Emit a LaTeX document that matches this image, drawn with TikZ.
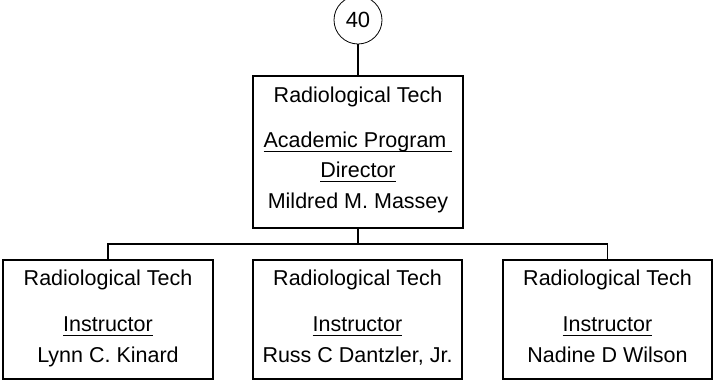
\documentclass[tikz,border=0pt]{standalone}
\usepackage{fontspec}
\setmainfont{Liberation Sans}
\newcommand\myul[1]{\setbox0\hbox{#1}\rlap{\rule[-4.5pt]{\wd0}{1.3pt}}\box0}
\begin{document}
\begin{tikzpicture}[x=1pt,y=-1pt,
  box/.style={draw,line width=1.4pt,minimum width=#1,inner sep=0pt,rectangle},
  txt/.style={anchor=base,inner sep=0pt,font=\fontsize{21.5}{25}\selectfont},
  conn/.style={line width=1.4pt}]
\useasboundingbox (0,0) rectangle (713,381);
% circle
\node[draw,circle,line width=0.8pt,minimum size=48pt,inner sep=0pt,font=\fontsize{22}{25}\selectfont] (c40) at (358,20) {40};
% top box
\node[box=210pt,minimum height=152pt] (top) at (358,152) {};
\node[txt] (t1) at (358,102) {Radiological Tech};
\node[txt] (t2) at (358,147.5) {\myul{Academic Program\ }};
\node[txt] (t3) at (358,177.5) {\myul{Director}};
\node[txt] (t4) at (358,208) {Mildred M. Massey};
% bottom boxes
\node[box=210pt,minimum height=119pt] (b1) at (108,319.5) {};
\node[box=209pt,minimum height=119pt] (b2) at (357.5,319.5) {};
\node[box=209pt,minimum height=119pt] (b3) at (607.5,319.5) {};
\foreach \n/\x/\name in {b1/108/{Lynn C. Kinard},b2/357.5/{Russ C Dantzler, Jr.},b3/607.5/{Nadine D Wilson}}{
  \node[txt] (\n r) at (\x,285) {Radiological Tech};
  \node[txt] (\n i) at (\x,331.5) {\myul{Instructor}};
  \node[txt] (\n n) at (\x,362.5) {\name};
}
% connectors
\coordinate (bus) at (358,244);
\draw[conn] (c40.south) -- (top.north);
\draw[conn] (top.south) -- (bus);
\draw[conn] (bus) -| (b1.north);
\draw[conn] (bus) -| (b3.north);
\end{tikzpicture}
\end{document}
